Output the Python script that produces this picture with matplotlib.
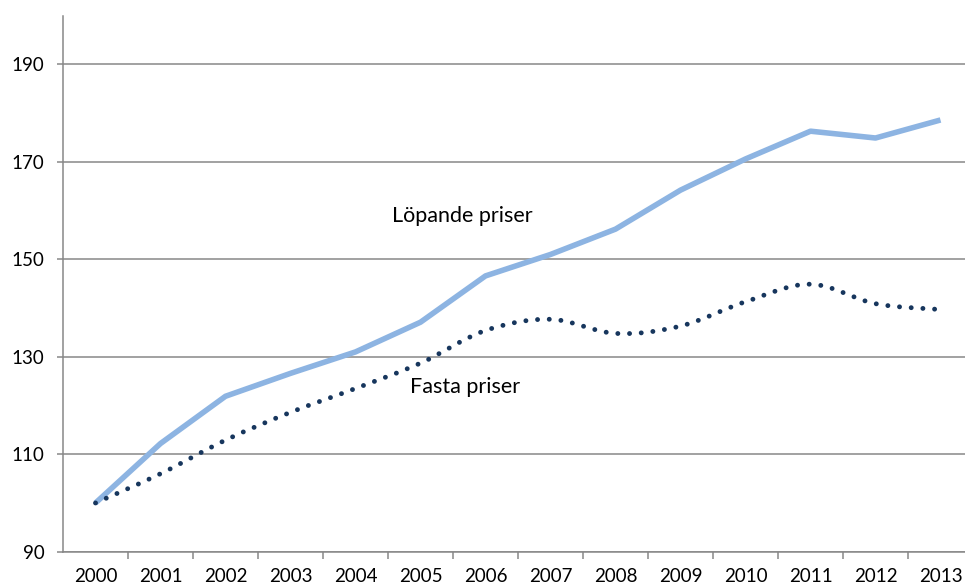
"""Löpande och fasta priser, index 2000 = 100."""

import numpy as np
import matplotlib
matplotlib.use("Agg")
import matplotlib.pyplot as plt
from matplotlib.path import Path
from matplotlib.patches import PathPatch


# Data
years = ["2000", "2001", "2002", "2003", "2004", "2005", "2006",
         "2007", "2008", "2009", "2010", "2011", "2012", "2013"]
lopande = [100.0, 112.2, 121.9, 126.6, 131.0, 137.1, 146.6,
           151.0, 156.2, 164.2, 170.6, 176.3, 174.9, 178.6]
fasta = [100.0, 106.0, 112.9, 118.6, 123.5, 128.7, 135.4,
         137.7, 134.8, 136.3, 141.3, 144.9, 140.9, 139.7]

LIGHT_BLUE = "#8db4e2"
NAVY = "#17365d"
GRID_GRAY = "#878787"

plt.rcParams["font.family"] = ["Lato", "DejaVu Sans"]


def smooth_path(x, y):
    """Catmull-Rom style Bezier path through the points (like Excel smoothing)."""
    pts = np.column_stack([x, y]).astype(float)
    verts = [pts[0]]
    codes = [Path.MOVETO]
    n = len(pts)
    for i in range(n - 1):
        p0 = pts[i - 1] if i > 0 else pts[i]
        p1 = pts[i]
        p2 = pts[i + 1]
        p3 = pts[i + 2] if i + 2 < n else pts[i + 1]
        c1 = p1 + (p2 - p0) / 6.0
        c2 = p2 - (p3 - p1) / 6.0
        verts += [c1, c2, p2]
        codes += [Path.CURVE4] * 3
    return Path(verts, codes)


W, H = 965, 587
fig = plt.figure(figsize=(W / 100, H / 100), dpi=100)
ax = fig.add_axes([63 / W, 35.3 / H, 910 / W, 536 / H])

xs = np.arange(len(years))

# Löpande priser: thick light blue line
ax.plot(xs, lopande, color=LIGHT_BLUE, linewidth=4.0,
        solid_joinstyle="round", solid_capstyle="butt", zorder=3)

# Fasta priser: smoothed dotted navy line
patch = PathPatch(smooth_path(xs, fasta), fill=False, edgecolor=NAVY,
                  linewidth=3.5, linestyle=(0, (0.01, 2.4)),
                  capstyle="round", zorder=3)
ax.add_patch(patch)

# Inline labels
ax.text(5.64, 158.9, "Löpande priser", ha="center", va="center", fontsize=15.5)
ax.text(5.68, 123.9, "Fasta priser", ha="center", va="center", fontsize=15.5)

# Axes
ax.set_xlim(-0.5, len(years) - 0.5)
ax.set_ylim(90, 200)
ax.set_yticks([90, 110, 130, 150, 170, 190])
ax.set_xticks(xs)
ax.set_xticklabels(years)
ax.set_xticks(np.arange(len(years)) + 0.5, minor=True)

ax.grid(axis="y", color=GRID_GRAY, linewidth=1.1)
ax.set_axisbelow(True)

for side in ["top", "right"]:
    ax.spines[side].set_visible(False)
for side in ["left", "bottom"]:
    ax.spines[side].set_color(GRID_GRAY)
    ax.spines[side].set_linewidth(1.1)

ax.tick_params(axis="y", length=4.5, width=1.1, color=GRID_GRAY,
               labelsize=13.5, pad=9)
ax.tick_params(axis="x", which="major", length=0, labelsize=13.5, pad=12)
ax.tick_params(axis="x", which="minor", length=4.8, width=1.1, color=GRID_GRAY)

fig.savefig("out.png", dpi=100)
